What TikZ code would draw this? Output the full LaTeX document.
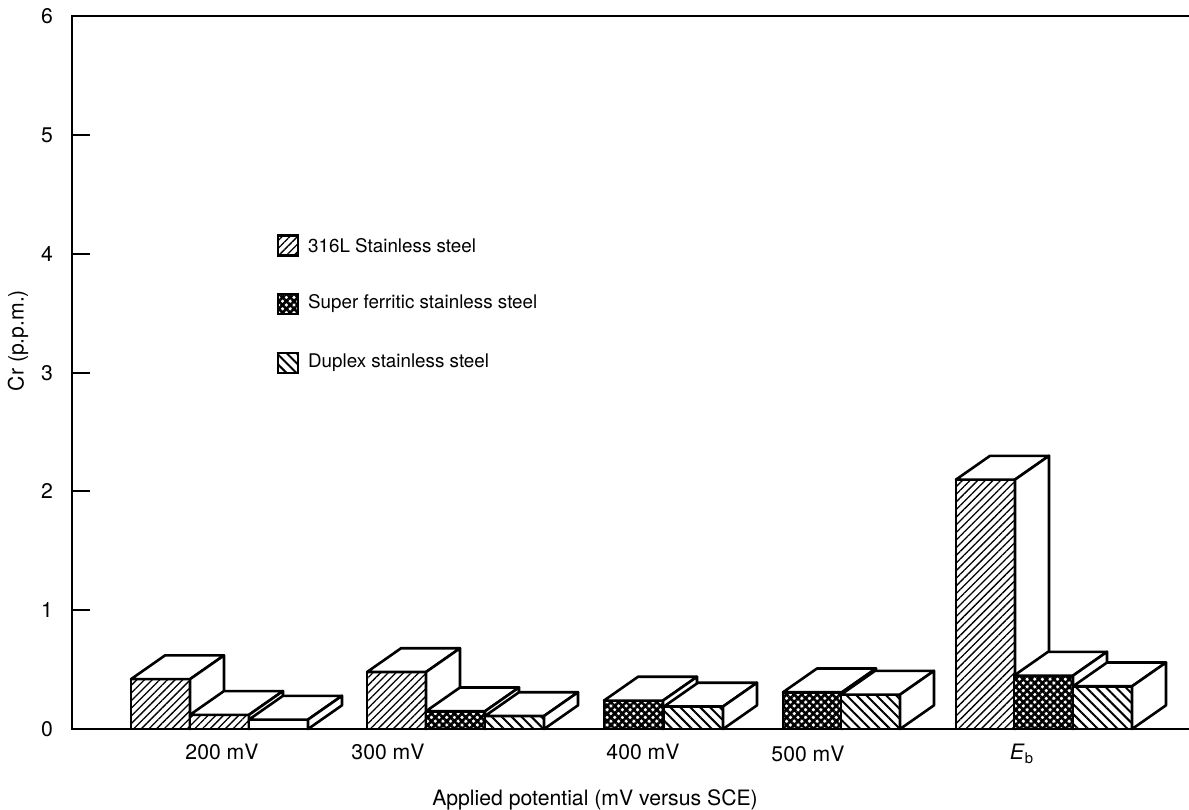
\documentclass[tikz,border=0pt]{standalone}
\usepackage{fontspec}
\setmainfont{TeX Gyre Heros}
\usepackage{tikz}
\usetikzlibrary{patterns.meta,positioning}
\newcommand{\barw}{59}
% one block: front face, top face, side face
\newcommand{\crbar}[3]{%
  \draw[barface,#3] (#1,0) rectangle ++(\barw,#2);
  \draw[barface] (#1,#2) -- ++(34,0.2) -- ++(\barw,0) -- ++(-34,-0.2) -- cycle;
  \draw[barface] (#1+\barw,0) -- ++(34,0.2) -- ++(0,#2) -- ++(-34,-0.2) -- cycle;
}
\tikzset{
  every node/.style={font=\fontsize{9.4pt}{11pt}\selectfont,text=black},
  bigtext/.style={font=\fontsize{10.6pt}{12pt}\selectfont},
  axisline/.style={line width=1pt},
  barface/.style={draw,line width=1.3pt,line join=round,fill=white},
  steel/.style={preaction={fill=white},pattern={Lines[angle=45,distance=2.7pt,line width=.65pt]}},
  ferritic/.style={preaction={fill=white},pattern={Hatch[angle=45,distance=2.7pt,line width=1.3pt]}},
  duplex/.style={preaction={fill=white},pattern={Lines[angle=-45,distance=3.5pt,line width=1pt]}},
  plain/.style={},
  keybox/.style={draw,line width=1.1pt,minimum size=10pt,inner sep=0pt}
}
\begin{document}
\begin{tikzpicture}[x=0.5pt,y=59.4pt]
  \useasboundingbox (0,-0.673) rectangle (1189,6.137);

  % axes
  \draw[axisline] (1189,6) -- (72,6) -- (72,0) -- (1189,0);
  \foreach \k in {1,...,5}
    \draw[axisline] (72,\k) -- ++(18,0);
  \foreach \k in {0,...,6}
    \node[bigtext,anchor=east] (tick\k) at (60,\k) {\k};
  \node[bigtext,rotate=90] (ylab) at (18,3.27) {Cr (p.p.m.)};
  \node[bigtext] (xlab) at (595,-0.6) {Applied potential (mV versus SCE)};

  % 200 mV
  \crbar{131}{0.42}{steel}
  \crbar{190}{0.12}{steel}
  \crbar{249}{0.08}{plain}
  % 300 mV
  \crbar{367}{0.48}{steel}
  \crbar{426}{0.15}{ferritic}
  \crbar{485}{0.11}{duplex}
  % 400 mV
  \crbar{604}{0.24}{ferritic}
  \crbar{664}{0.19}{duplex}
  % 500 mV
  \crbar{783}{0.31}{ferritic}
  \crbar{841}{0.29}{duplex}
  % E_b
  \crbar{956}{2.10}{steel}
  \crbar{1014}{0.45}{ferritic}
  \crbar{1073}{0.36}{duplex}

  \node[bigtext] (g200) at (222,-0.19) {200 mV};
  \node[bigtext] (g300) at (388,-0.19) {300 mV};
  \node[bigtext] (g400) at (643,-0.19) {400 mV};
  \node[bigtext] (g500) at (808,-0.21) {500 mV};
  \node[bigtext] (geb) at (1022,-0.21) {\textit{E}\textsubscript{b}};

  % legend
  \node[keybox,steel] (key316) at (288,4.07) {};
  \node[keybox,ferritic] (keyfer) at (288,3.58) {};
  \node[keybox,duplex] (keydup) at (288,3.08) {};
  \node[right=1pt of key316] (lab316) {316L Stainless steel};
  \node[right=1pt of keyfer] (labfer) {Super ferritic stainless steel};
  \node[right=1pt of keydup] (labdup) {Duplex stainless steel};
\end{tikzpicture}
\end{document}
